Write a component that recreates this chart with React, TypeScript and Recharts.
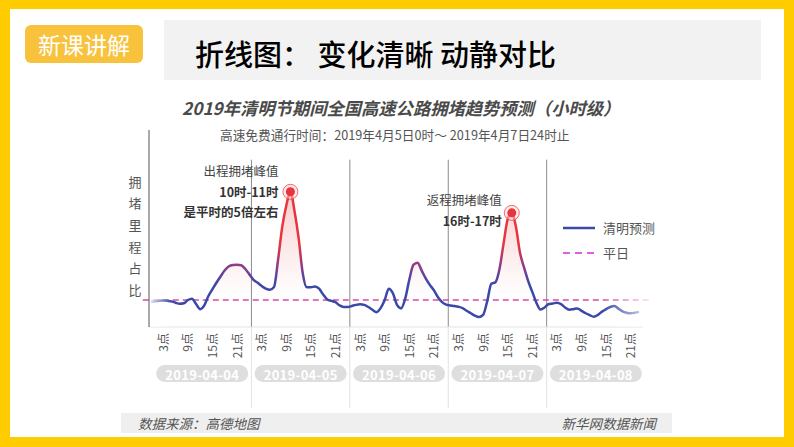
import React from "react";
import {
  ComposedChart,
  Line,
  Area,
  XAxis,
  YAxis,
  ReferenceLine,
  ReferenceArea,
  Legend,
} from "recharts";

// 拥堵里程占比 (平日 = 1), hourly, 2019-04-04 00:00 .. 2019-04-08 23:00
const CONGESTION = [
  0.94, 0.95, 0.97, 0.98, 0.97, 0.95, 0.9, 0.86, 0.88, 1.0,
  1.05, 0.85, 0.66, 0.8, 1.15, 1.4, 1.65, 1.88, 2.1, 2.25,
  2.3, 2.31, 2.29, 2.15, 1.95, 1.75, 1.64, 1.52, 1.42, 1.38,
  1.48, 2.5, 3.7, 4.5, 5.01, 4.3, 3.3, 2.0, 1.47, 1.47,
  1.5, 1.42, 1.2, 1.02, 0.97, 0.92, 0.8, 0.74, 0.74, 0.78,
  0.82, 0.84, 0.82, 0.74, 0.64, 0.55, 0.7, 1.0, 1.42, 1.25,
  0.82, 0.69, 1.05, 1.75, 2.3, 2.38, 2.1, 1.8, 1.56, 1.36,
  1.1, 0.92, 0.83, 0.8, 0.78, 0.75, 0.7, 0.6, 0.51, 0.42,
  0.37, 0.45, 0.95, 1.6, 1.66, 2.15, 3.1, 4.0, 4.23, 3.72,
  2.75, 2.2, 1.7, 1.3, 0.9, 0.65, 0.72, 0.85, 0.87, 0.9,
  0.85, 0.72, 0.64, 0.66, 0.69, 0.6, 0.51, 0.44, 0.38, 0.45,
  0.57, 0.66, 0.74, 0.78, 0.68, 0.58, 0.53, 0.51, 0.53, 0.56,
];
const NORMAL_LEVEL = 1;

const HOUR_TICKS = [3, 9, 15, 21, 27, 33, 39, 45, 51, 57, 63, 69, 75, 81, 87, 93, 99, 105, 111, 117];
const HOUR_LABELS = [
  "3点", "9点", "15点", "21点", "3点", "9点", "15点", "21点", "3点", "9点",
  "15点", "21点", "3点", "9点", "15点", "21点", "3点", "9点", "15点", "21点",
];
const DAYS = ["2019-04-04", "2019-04-05", "2019-04-06", "2019-04-07", "2019-04-08"];
const DAY_CENTERS = [12.5, 36.5, 60.5, 84.5, 108.5];
const DAY_BREAKS = [24.5, 48.5, 72.5, 96.5];

const PEAK_NOTES = [
  { hour: 34, title: "出程拥堵峰值", lines: ["10时-11时", "是平时的5倍左右"] },
  { hour: 88, title: "返程拥堵峰值", lines: ["16时-17时"] },
];

const FONT = "'Noto Sans CJK SC', 'Noto Sans', sans-serif";
const RED = "#e8343c";
const BLUE = "#3a48a8";

const data = CONGESTION.map((value, hour) => ({ hour, value }));

// text offsets from the peak dot, per note
const NOTE_LAYOUT = [
  { dx: -12, titleDy: -21, lineDy: [0, 19.5] },
  { dx: -10, titleDy: -13, lineDy: [7.5] },
];

function renderPeak(props: any) {
  const { cx, cy, index } = props;
  const n = PEAK_NOTES.findIndex((p) => p.hour === index);
  if (n < 0 || cx == null) return <g key={index} />;
  const note = PEAK_NOTES[n];
  const lay = NOTE_LAYOUT[n];
  return (
    <g key={index} fontFamily={FONT}>
      <circle cx={cx} cy={cy} r={7.5} fill="#fbd3d3" fillOpacity={0.5} stroke={RED} strokeOpacity={0.7} strokeWidth={1} />
      <circle cx={cx} cy={cy} r={4.5} fill={RED} />
      <text x={cx + lay.dx} y={cy + lay.titleDy} textAnchor="end" dominantBaseline="central" fontSize={12.5} fill="#444">
        {note.title}
      </text>
      {note.lines.map((t, i) => (
        <text key={i} x={cx + lay.dx} y={cy + lay.lineDy[i]} textAnchor="end" dominantBaseline="central" fontSize={12.5} fontWeight="bold" fill="#333">
          {t}
        </text>
      ))}
    </g>
  );
}

function HourTick(props: any) {
  const { x, y, index } = props;
  const ty = y + 6;
  return (
    <text x={x - 1} y={ty} transform={`rotate(-90 ${x - 1} ${ty})`} textAnchor="end" dominantBaseline="central" fontSize={12} fill="#555" fontFamily={FONT}>
      {HOUR_LABELS[index]}
    </text>
  );
}

function DayTick(props: any) {
  const { x, y, index } = props;
  return (
    <g>
      <rect x={x - 46} y={y} width={92} height={17} rx={8.5} fill="#dedede" />
      <text x={x} y={y + 9} textAnchor="middle" dominantBaseline="central" fontSize={13} fontWeight="bold" letterSpacing={0.3} fill="#fff" fontFamily={FONT}>
        {DAYS[index]}
      </text>
    </g>
  );
}

function SepTick(props: any) {
  const { x, y } = props;
  return <line x1={x} x2={x} y1={y - 58} y2={y + 23} stroke="#e2e2e2" strokeWidth={1} />;
}

function YLabel(props: any) {
  const { viewBox } = props;
  const chars = "拥堵里程占比".split("");
  return (
    <g>
      {chars.map((c, i) => (
        <text key={i} x={viewBox.x + viewBox.width - 14} y={viewBox.y + 51 + i * 21.7} textAnchor="middle" dominantBaseline="central" fontSize={13} fill="#555" fontFamily={FONT}>
          {c}
        </text>
      ))}
    </g>
  );
}

function LegendBox() {
  const row = { display: "flex", alignItems: "center", height: 25 } as const;
  return (
    <div style={{ fontFamily: FONT, fontSize: 13, color: "#555" }}>
      <div style={row}>
        <svg width={32} height={6}>
          <line x1={0} x2={32} y1={3} y2={3} stroke={BLUE} strokeWidth={2.5} />
        </svg>
        <span style={{ marginLeft: 8 }}>清明预测</span>
      </div>
      <div style={row}>
        <svg width={32} height={6}>
          <line x1={0} x2={32} y1={3} y2={3} stroke="#e05fe0" strokeWidth={2} strokeDasharray="7 5" />
        </svg>
        <span style={{ marginLeft: 8 }}>平日</span>
      </div>
    </div>
  );
}

function abs(left: number, top: number, extra: React.CSSProperties = {}): React.CSSProperties {
  return { position: "absolute", left, top, ...extra };
}

export default function App() {
  return (
    <div style={{ position: "absolute", left: 0, top: 0, width: 794, height: 447, background: "#ffcc00", overflow: "hidden", fontFamily: FONT }}>
      <div style={abs(10, 9, { width: 774, height: 428, background: "#fff" })} />
      <div style={abs(25, 25, { width: 118, height: 38, background: "#f8c23c", borderRadius: 6, color: "#fff", fontSize: 23, lineHeight: "38px", textAlign: "center" })}>
        新课讲解
      </div>
      <div style={abs(164, 20, { width: 597, height: 60, background: "#f2f2f2" })} />
      <div style={abs(195, 36, { fontSize: 29, lineHeight: "34px", color: "#000", fontWeight: 500, whiteSpace: "pre" })}>
        {"折线图： 变化清晰 动静对比"}
      </div>
      <div style={abs(182, 98, { fontSize: 17.3, lineHeight: "20px", color: "#4a4a4a", fontWeight: "bold", fontStyle: "italic", whiteSpace: "nowrap" })}>
        2019年清明节期间全国高速公路拥堵趋势预测（小时级）
      </div>
      <div style={abs(220, 127, { fontSize: 12.7, lineHeight: "16px", color: "#555", whiteSpace: "nowrap" })}>
        高速免费通行时间：2019年4月5日0时～ 2019年4月7日24时止
      </div>
      <div style={abs(121, 413, { width: 551, height: 20, background: "#efefef" })} />
      <div style={abs(138, 414, { fontSize: 13.5, lineHeight: "18px", color: "#555", fontStyle: "italic", whiteSpace: "nowrap" })}>
        数据来源：高德地图
      </div>
      <div style={abs(500, 414, { width: 156, textAlign: "right", fontSize: 13.5, lineHeight: "18px", color: "#555", fontStyle: "italic", whiteSpace: "nowrap" })}>
        新华网数据新闻
      </div>

      <div style={abs(0, 0)}>
        <ComposedChart width={794} height={447} data={data} margin={{ top: 130, right: 151, bottom: 60, left: 0 }}>
          <defs>
            <linearGradient id="lineGrad" x1="0" y1="0" x2="0" y2="1">
              <stop offset="0" stopColor={RED} />
              <stop offset="0.42" stopColor={RED} />
              <stop offset="0.6" stopColor="#8a3c8c" />
              <stop offset="0.74" stopColor={BLUE} />
              <stop offset="1" stopColor={BLUE} />
            </linearGradient>
            <linearGradient id="glow" x1="0" y1="0" x2="0" y2="1">
              <stop offset="0" stopColor="#f08a8a" stopOpacity={0.45} />
              <stop offset="0.55" stopColor="#f3a5a5" stopOpacity={0.15} />
              <stop offset="0.8" stopColor="#f7c0c0" stopOpacity={0} />
            </linearGradient>
            <linearGradient id="fadeL" x1="0" y1="0" x2="1" y2="0">
              <stop offset="0" stopColor="#fff" stopOpacity={0.8} />
              <stop offset="1" stopColor="#fff" stopOpacity={0} />
            </linearGradient>
            <linearGradient id="fadeR" x1="0" y1="0" x2="1" y2="0">
              <stop offset="0" stopColor="#fff" stopOpacity={0} />
              <stop offset="1" stopColor="#fff" stopOpacity={0.85} />
            </linearGradient>
          </defs>
          <XAxis
            dataKey="hour"
            type="number"
            domain={[0, 120]}
            ticks={HOUR_TICKS}
            interval={0}
            height={38}
            padding={{ left: 2, right: 0 }}
            axisLine={{ stroke: "#e3e3e3" }}
            tickLine={false}
            tickSize={0}
            tickMargin={0}
            tick={<HourTick />}
          />
          <XAxis
            xAxisId="day"
            dataKey="hour"
            type="number"
            domain={[0, 120]}
            ticks={DAY_CENTERS}
            interval={0}
            height={20}
            padding={{ left: 2, right: 0 }}
            axisLine={false}
            tickLine={false}
            tickSize={0}
            tickMargin={0}
            tick={<DayTick />}
          />
          <XAxis
            xAxisId="sep"
            dataKey="hour"
            type="number"
            domain={[0, 120]}
            ticks={DAY_BREAKS}
            interval={0}
            height={2}
            padding={{ left: 2, right: 0 }}
            axisLine={false}
            tickLine={false}
            tickSize={0}
            tickMargin={0}
            tick={<SepTick />}
          />
          <YAxis
            type="number"
            domain={[0, 7.3]}
            width={149}
            tick={false}
            tickLine={false}
            axisLine={{ stroke: "#555" }}
            label={{ content: <YLabel /> }}
          />
          {DAY_BREAKS.map((b) => (
            <ReferenceLine key={b} segment={[{ x: b, y: 0 }, { x: b, y: 6.2 }]} stroke="#8c8c8c" strokeWidth={1} />
          ))}
          <ReferenceLine
            segment={[{ x: -2, y: NORMAL_LEVEL }, { x: 122, y: NORMAL_LEVEL }]}
            ifOverflow="visible"
            stroke="#d84aa6"
            strokeWidth={1.5}
            strokeDasharray="6 4"
          />
          <Area
            dataKey="value"
            type="monotone"
            stroke="none"
            fill="url(#glow)"
            fillOpacity={1}
            baseValue={0}
            activeDot={false}
            isAnimationActive={false}
          />
          <Line
            name="清明预测"
            dataKey="value"
            type="monotone"
            stroke="url(#lineGrad)"
            strokeWidth={2.5}
            dot={renderPeak}
            activeDot={false}
            isAnimationActive={false}
          />
          <ReferenceArea x1={0} x2={5} y1={0} y2={2} fill="url(#fadeL)" fillOpacity={1} stroke="none" ifOverflow="visible" zIndex={1500} />
          <ReferenceArea x1={110} x2={122} y1={0} y2={2} fill="url(#fadeR)" fillOpacity={1} stroke="none" ifOverflow="visible" zIndex={1500} />
          <Legend
            layout="vertical"
            align="center"
            verticalAlign="middle"
            content={<LegendBox />}
            wrapperStyle={{ left: 563, top: 215, width: 130 }}
          />
        </ComposedChart>
      </div>
    </div>
  );
}
